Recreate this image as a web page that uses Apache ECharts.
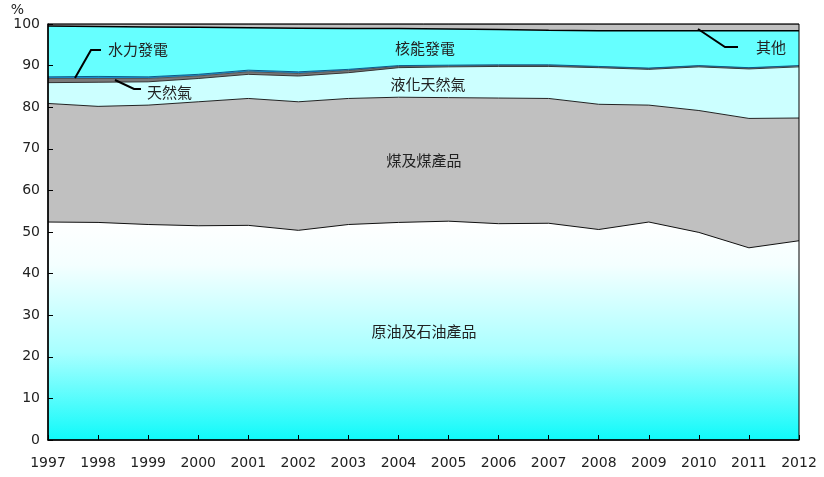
<!DOCTYPE html>
<html>
<head>
<meta charset="utf-8">
<script src="https://cdn.jsdelivr.net/npm/echarts@6/dist/echarts.min.js"></script>
<style>
  html, body { margin: 0; padding: 0; background: #fff; }
  #chart { width: 824px; height: 477px; }
</style>
</head>
<body>
<div id="chart"></div>
<script>
// Share of primary energy supply by source (%), stacked bottom to top
const years = ['1997','1998','1999','2000','2001','2002','2003','2004','2005','2006','2007','2008','2009','2010','2011','2012'];
const oil     = [52.4, 52.3, 51.8, 51.5, 51.6, 50.4, 51.8, 52.3, 52.6, 52.0, 52.1, 50.6, 52.4, 49.9, 46.2, 47.9];
const coal    = [28.5, 27.9, 28.7, 29.8, 30.5, 30.9, 30.3, 30.1, 29.7, 30.2, 30.0, 30.1, 28.1, 29.3, 31.1, 29.5];
const lng     = [5.0, 5.8, 5.6, 5.6, 5.8, 6.2, 6.2, 7.1, 7.4, 7.6, 7.7, 8.8, 8.6, 10.5, 11.9, 12.3];
const natGas  = [1.0, 0.9, 0.8, 0.6, 0.6, 0.6, 0.5, 0.3, 0.2, 0.2, 0.2, 0.2, 0.2, 0.2, 0.2, 0.2];
const hydro   = [0.4, 0.5, 0.4, 0.4, 0.4, 0.4, 0.3, 0.2, 0.2, 0.2, 0.2, 0.1, 0.1, 0.1, 0.1, 0.1];
const nuclear = [12.2, 12.0, 12.0, 11.3, 10.2, 10.5, 9.8, 8.9, 8.7, 8.5, 8.3, 8.6, 9.0, 8.4, 8.9, 8.4];
const other   = [0.5, 0.6, 0.7, 0.8, 0.9, 1.0, 1.1, 1.1, 1.2, 1.3, 1.5, 1.6, 1.6, 1.6, 1.6, 1.6];
const yTicks  = { min: 0, max: 100, interval: 10 };

const CJK = 'Noto Sans CJK TC';
const NUM = 'DejaVu Sans';
const chart = echarts.init(document.getElementById('chart'));

function layer(name, data, fill, lineColor, lineWidth) {
  return {
    name, type: 'line', stack: 'total', data,
    symbol: 'none', smooth: false,
    lineStyle: { color: lineColor, width: lineWidth },
    areaStyle: { color: fill, opacity: 1 },
    emphasis: { disabled: true },
    z: 2
  };
}

function label(text, x, y, align) {
  return {
    type: 'text', x, y, z: 20,
    style: { text, fill: '#222', fontSize: 15, fontFamily: CJK, align: align || 'left', verticalAlign: 'middle' }
  };
}

function leader(points) {
  return { type: 'polyline', z: 20, shape: { points }, style: { stroke: '#000', lineWidth: 2, fill: null } };
}

const oilFill = new echarts.graphic.LinearGradient(0, 0, 0, 1, [
  { offset: 0, color: '#ffffff' },
  { offset: 0.2, color: '#f4ffff' },
  { offset: 0.6, color: '#a8ffff' },
  { offset: 1, color: '#0ffafa' }
]);

chart.setOption({
  animation: false,
  backgroundColor: '#fff',
  grid: { left: 48, right: 25, top: 24, bottom: 37, show: true, borderColor: '#000', borderWidth: 1, z: 5 },
  xAxis: {
    type: 'category', data: years, boundaryGap: false,
    axisLine: { lineStyle: { color: '#000', width: 1.5 } },
    axisTick: { inside: true, length: 5, lineStyle: { color: '#000' } },
    axisLabel: { color: '#222', fontSize: 14, fontFamily: NUM, margin: 16 },
    splitLine: { show: false },
    z: 6
  },
  yAxis: {
    type: 'value', min: yTicks.min, max: yTicks.max, interval: yTicks.interval,
    name: '%', nameGap: 2,
    nameTextStyle: { color: '#222', fontSize: 14, fontFamily: NUM, align: 'right', padding: [0, 24, -6, 0] },
    axisLine: { show: true, lineStyle: { color: '#000', width: 1.5 } },
    axisTick: { show: true, inside: true, length: 5, lineStyle: { color: '#000' } },
    axisLabel: { color: '#222', fontSize: 14, fontFamily: NUM, margin: 8 },
    splitLine: { show: false },
    z: 6
  },
  series: [
    layer('原油及石油產品', oil, oilFill, '#111', 1),
    layer('煤及煤產品', coal, '#c0c0c0', '#222', 1),
    layer('液化天然氣', lng, '#ccffff', '#333', 1),
    layer('天然氣', natGas, '#7a7a7a', '#555', 1),
    layer('水力發電', hydro, '#1a8fd0', '#0a5c8a', 1),
    layer('核能發電', nuclear, '#66ffff', '#000', 1.5),
    layer('其他', other, '#c0c0c0', '#333', 1)
  ],
  graphic: [
    label('原油及石油產品', 424, 331, 'center'),
    label('煤及煤產品', 424, 160, 'center'),
    label('液化天然氣', 428, 84, 'center'),
    label('核能發電', 425, 48, 'center'),
    label('水力發電', 108, 49),
    label('天然氣', 147, 92),
    label('其他', 756, 47),
    leader([[75, 78], [91, 50], [101, 50]]),
    leader([[115, 80], [134, 89], [141, 89]]),
    leader([[698, 29], [725, 47], [738, 47]])
  ]
});
</script>
</body>
</html>
